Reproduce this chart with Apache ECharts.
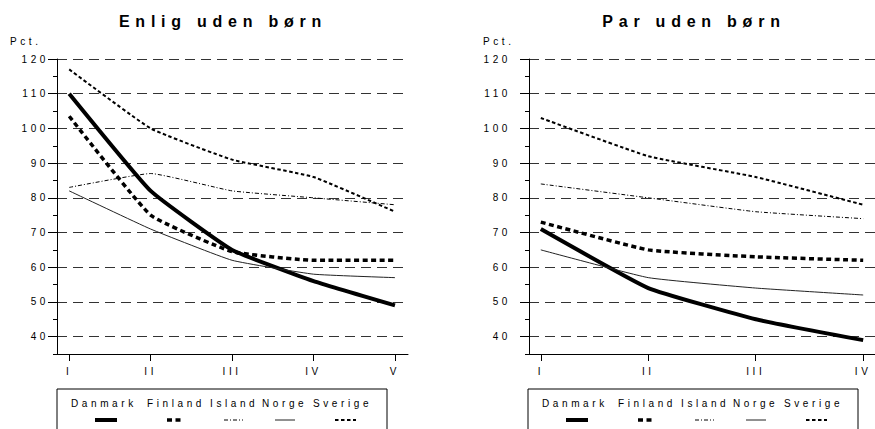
<!DOCTYPE html>
<html><head><meta charset="utf-8">
<script src="https://cdn.jsdelivr.net/npm/echarts@6/dist/echarts.min.js"></script>
<style>
html,body{margin:0;padding:0;background:#fff;}
#c{width:875px;height:429px;}
#c text{letter-spacing:0.36em;}
</style></head><body><div id="c"></div>
<script>
// ---- data ----
const countries = ['Danmark', 'Finland', 'Island', 'Norge', 'Sverige'];
const catsEnlig = ['I', 'II', 'III', 'IV', 'V'];
const catsPar = ['I', 'II', 'III', 'IV'];
const yTickLabels = [40, 50, 60, 70, 80, 90, 100, 110, 120];
const titleEnlig = 'Enlig uden børn';
const titlePar = 'Par uden børn';
const unitLabel = 'Pct.';

const enligDanmark = [110, 82, 65, 56, 49];
const enligFinland = [103.5, 75, 64.5, 62, 62];
const enligIsland  = [83, 87, 82, 80, 78];
const enligNorge   = [82, 71, 62, 58, 57];
const enligSverige = [117, 100, 91, 86, 76];

const parDanmark = [71, 54, 45, 39];
const parFinland = [73, 65, 63, 62];
const parIsland  = [84, 80, 76, 74];
const parNorge   = [65, 57, 54, 52];
const parSverige = [103, 92, 86, 78];

// ---- styles ----
const FONT = 'Liberation Sans, Arial, Helvetica, sans-serif';
const lineStyles = {
  Danmark: {width: 4, type: 'solid', color: '#000'},
  Finland: {width: 3.5, type: [5, 3.5], color: '#000'},
  Island:  {width: 1, type: [4, 2, 1, 2], color: '#000'},
  Norge:   {width: 1, type: 'solid', color: '#222'},
  Sverige: {width: 2, type: [3.5, 2.5], color: '#000'}
};
const enligData = {Danmark: enligDanmark, Finland: enligFinland, Island: enligIsland, Norge: enligNorge, Sverige: enligSverige};
const parData = {Danmark: parDanmark, Finland: parFinland, Island: parIsland, Norge: parNorge, Sverige: parSverige};

function toPairs(arr) { return arr.map((v, i) => [i, v]); }

function yAxesFor(gridIndex, labelMargin) {
  return [
    {
      gridIndex, type: 'value', position: 'left', min: 35, max: 120, interval: 5,
      axisLine: {show: true, onZero: false, lineStyle: {color: '#000', width: 1}},
      axisTick: {show: true, length: 4, lineStyle: {color: '#000'}},
      axisLabel: {show: false}, splitLine: {show: false}
    },
    {
      gridIndex, type: 'value', position: 'left', min: 35, max: 120,
      axisLine: {show: false, onZero: false},
      axisTick: {show: true, length: 9, customValues: yTickLabels, lineStyle: {color: '#000'}},
      axisLabel: {customValues: yTickLabels, margin: labelMargin, fontSize: 10, color: '#000', fontFamily: FONT},
      splitLine: {show: true, lineStyle: {type: [10, 6], color: '#333', width: 1}}
    }
  ];
}
function xAxisFor(gridIndex, cats, min, max) {
  const idx = cats.map((c, i) => i);
  return {
    gridIndex, type: 'value', min, max,
    axisLine: {onZero: false, lineStyle: {color: '#000', width: 1}},
    axisTick: {show: true, length: 7, customValues: idx, lineStyle: {color: '#000'}},
    axisLabel: {customValues: idx, margin: 12, fontSize: 10, color: '#000', fontFamily: FONT,
      formatter: v => cats[Math.round(v)]},
    splitLine: {show: false}
  };
}

const series = [];
countries.forEach(c => {
  series.push({name: c, type: 'line', xAxisIndex: 0, yAxisIndex: 0, data: toPairs(enligData[c]),
    symbol: 'none', smooth: 0.12, lineStyle: lineStyles[c], silent: true});
  series.push({name: c, type: 'line', xAxisIndex: 1, yAxisIndex: 2, data: toPairs(parData[c]),
    symbol: 'none', smooth: 0.12, lineStyle: lineStyles[c], silent: true});
});

// legend graphics (box, names, line samples)
const legendTextX = [71, 147, 210, 262, 313];
const legendSym = [[95, 117], [167, 183], [224, 243], [275, 295], [335, 356]];
function legendGraphics(dx) {
  const els = [{type: 'rect', shape: {x: 57 + dx, y: 389, width: 330, height: 60},
    style: {fill: 'none', stroke: '#000', lineWidth: 1}}];
  countries.forEach((c, i) => {
    els.push({type: 'text', x: legendTextX[i] + dx, y: 403,
      style: {text: c, font: '10px ' + FONT, fill: '#000', align: 'left', textAlign: 'left',
        verticalAlign: 'middle', textVerticalAlign: 'middle'}});
    const ls = lineStyles[c];
    els.push({type: 'line', shape: {x1: legendSym[i][0] + dx, y1: 420, x2: legendSym[i][1] + dx, y2: 420},
      style: {stroke: ls.color, lineWidth: ls.width, lineDash: Array.isArray(ls.type) ? ls.type : null}});
  });
  return els;
}
function textEl(str, x, y, font, align) {
  return {type: 'text', x, y, style: {text: str, font, fill: '#000', align, textAlign: align,
    verticalAlign: 'middle', textVerticalAlign: 'middle'}};
}

const chart = echarts.init(document.getElementById('c'), null, {renderer: 'svg'});
chart.setOption({
  animation: false,
  backgroundColor: '#fff',
  textStyle: {fontFamily: FONT},
  grid: [
    {left: 57, top: 59, right: 467, bottom: 75},
    {left: 529, top: 59, right: -4, bottom: 75}
  ],
  xAxis: [xAxisFor(0, catsEnlig, -0.15, 4.16), xAxisFor(1, catsPar, -0.11, 3.11)],
  yAxis: yAxesFor(0, 8).concat(yAxesFor(1, 18)),
  series,
  graphic: [
    textEl(titleEnlig, 223, 21, 'bold 16px ' + FONT, 'center'),
    textEl(titlePar, 694, 21, 'bold 16px ' + FONT, 'center'),
    textEl(unitLabel, 10, 41, '10px ' + FONT, 'left'),
    textEl(unitLabel, 483, 41, '10px ' + FONT, 'left')
  ].concat(legendGraphics(0), legendGraphics(471))
});
</script></body></html>
